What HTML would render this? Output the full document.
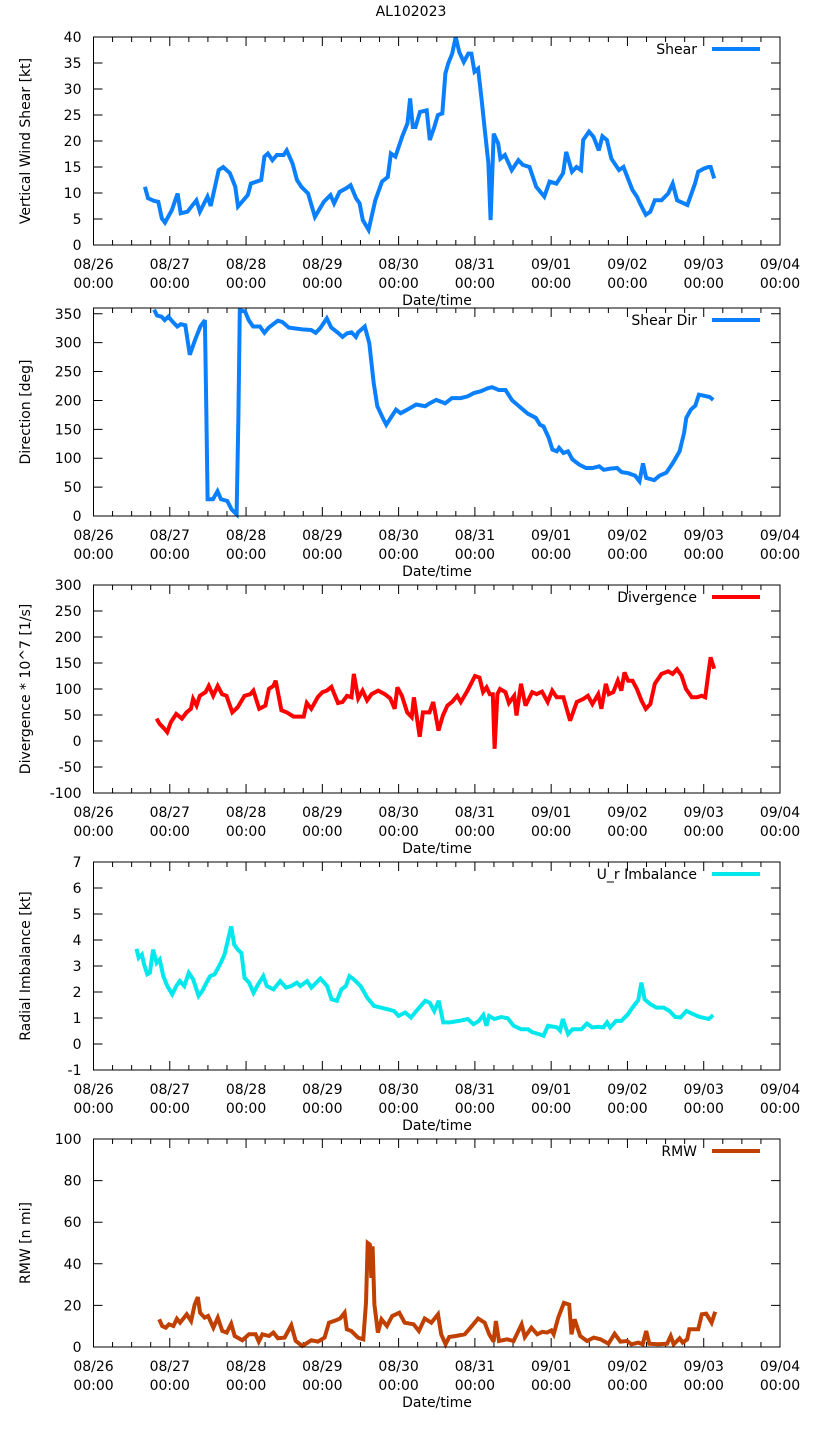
<!DOCTYPE html>
<html><head><meta charset="utf-8">
<style>
html,body{margin:0;padding:0;background:#fff;}
svg{display:block;font-family:"DejaVu Sans","Liberation Sans",sans-serif;}
</style></head>
<body>
<svg id="chart" width="822" height="1439" viewBox="0 0 822 1439" xmlns="http://www.w3.org/2000/svg">
<rect width="822" height="1439" fill="#fff"/>
<text x="411" y="16" font-size="14" text-anchor="middle" fill="#000">AL102023</text>
</svg>
<script>
// x tick labels (days 0..9 from 08/26 00:00)
const xTickDates = ["08/26","08/27","08/28","08/29","08/30","08/31","09/01","09/02","09/03","09/04"];

const shearTimes = [0.674,0.715,0.792,0.850,0.897,0.938,1.026,1.102,1.143,1.231,1.349,1.395,1.495,1.536,1.642,1.700,1.788,1.859,1.894,2.023,2.064,2.199,2.240,2.287,2.345,2.404,2.492,2.533,2.609,2.668,2.726,2.814,2.902,3.019,3.107,3.154,3.225,3.313,3.371,3.442,3.488,3.530,3.606,3.694,3.782,3.858,3.899,3.958,4.046,4.116,4.151,4.186,4.221,4.280,4.368,4.409,4.468,4.515,4.573,4.614,4.650,4.702,4.749,4.796,4.855,4.913,4.954,4.995,5.042,5.089,5.130,5.177,5.206,5.247,5.306,5.335,5.394,5.482,5.570,5.628,5.716,5.804,5.910,5.980,6.068,6.156,6.197,6.273,6.332,6.391,6.420,6.496,6.555,6.625,6.672,6.731,6.790,6.889,6.948,7.006,7.065,7.124,7.165,7.241,7.300,7.358,7.446,7.534,7.593,7.651,7.786,7.886,7.927,8.001,8.062,8.091,8.138];
const shearValues = [11.2,9.0,8.5,8.3,5.1,4.3,6.7,9.9,6.1,6.4,8.6,6.4,9.3,7.5,14.4,15.0,13.8,11.2,7.4,9.6,11.8,12.5,17.0,17.6,16.3,17.3,17.3,18.2,15.7,12.5,11.2,9.9,5.4,8.3,9.6,8.0,10.2,10.9,11.5,9.0,8.0,4.8,2.9,8.6,12.2,13.1,17.6,17.0,20.8,23.4,28.2,22.7,22.7,25.6,25.9,20.2,22.7,25.0,25.3,33.0,34.9,36.8,40.0,37.1,35.2,36.8,36.8,33.3,33.9,27.8,22.1,15.7,4.8,21.4,19.5,16.6,17.3,14.4,16.3,15.4,15.0,11.2,9.3,12.2,11.8,13.8,17.9,14.1,15.0,14.4,20.2,21.8,20.8,18.2,20.9,20.2,16.6,14.4,15.0,12.8,10.6,9.3,8.0,5.8,6.4,8.6,8.6,9.9,11.8,8.6,7.7,11.8,14.1,14.7,15.0,15.0,12.8];

const dirTimes = [0.794,0.834,0.893,0.934,0.981,1.039,1.099,1.145,1.204,1.262,1.332,1.402,1.461,1.479,1.496,1.567,1.625,1.672,1.754,1.812,1.876,1.900,1.918,1.988,2.035,2.093,2.181,2.240,2.298,2.416,2.474,2.562,2.737,2.854,2.913,2.972,3.059,3.118,3.205,3.265,3.323,3.382,3.440,3.470,3.557,3.616,3.674,3.721,3.791,3.838,3.896,3.966,4.026,4.113,4.231,4.347,4.406,4.494,4.611,4.699,4.815,4.903,4.992,5.080,5.167,5.225,5.313,5.401,5.489,5.606,5.694,5.799,5.852,5.899,5.969,6.016,6.074,6.104,6.162,6.221,6.279,6.367,6.455,6.543,6.630,6.690,6.777,6.865,6.923,7.011,7.099,7.158,7.204,7.246,7.351,7.421,7.509,7.597,7.684,7.743,7.772,7.831,7.889,7.937,8.007,8.077,8.124];
const dirValues = [357,347,345,339,345,336,328,332,330,279,305,328,339,184,29,29,43,29,26,11,3,172,356,354,339,328,328,317,326,338,336,326,323,322,317,325,342,326,317,310,316,318,310,318,328,299,230,190,170,158,170,184,178,184,193,190,195,201,195,204,204,207,213,216,221,223,218,218,200,187,177,170,158,155,135,115,112,118,109,112,98,89,83,83,86,80,82,83,76,74,70,60,91,66,62,70,75,92,112,144,170,184,191,210,208,206,201];

const divTimes = [0.827,0.867,0.926,0.966,1.014,1.084,1.159,1.219,1.277,1.306,1.352,1.394,1.470,1.511,1.569,1.628,1.686,1.744,1.820,1.891,1.979,2.055,2.096,2.172,2.254,2.300,2.359,2.388,2.464,2.534,2.622,2.756,2.797,2.855,2.943,3.002,3.060,3.119,3.206,3.265,3.323,3.382,3.412,3.470,3.528,3.587,3.645,3.733,3.820,3.890,3.949,3.984,4.043,4.113,4.172,4.200,4.276,4.318,4.405,4.453,4.523,4.581,4.640,4.698,4.768,4.815,4.903,5.002,5.060,5.107,5.154,5.195,5.235,5.259,5.295,5.329,5.400,5.446,5.516,5.546,5.605,5.663,5.751,5.809,5.880,5.955,6.014,6.072,6.160,6.248,6.336,6.423,6.481,6.540,6.616,6.658,6.716,6.756,6.815,6.873,6.920,6.961,7.008,7.066,7.124,7.183,7.241,7.300,7.358,7.446,7.534,7.592,7.650,7.709,7.768,7.844,7.914,7.972,8.020,8.060,8.090,8.137];
const divValues = [43,33,24,17,36,52,43,55,62,81,68,87,94,106,87,106,90,87,55,65,87,90,97,62,68,100,106,116,59,55,47,47,73,62,85,94,97,104,73,75,87,84,129,82,97,78,90,97,90,82,62,103,87,55,46,84,8,55,55,75,20,49,68,75,87,75,97,125,122,94,103,90,90,-15,90,100,94,73,87,49,110,68,94,90,95,75,97,84,84,39,75,81,87,71,90,62,110,90,94,116,97,132,116,116,100,78,62,71,110,129,134,129,138,126,100,84,84,87,84,129,161,139];

const urTimes = [0.564,0.593,0.635,0.664,0.705,0.740,0.781,0.827,0.868,0.915,0.968,1.032,1.085,1.131,1.190,1.249,1.307,1.378,1.425,1.482,1.530,1.588,1.658,1.717,1.763,1.805,1.845,1.892,1.939,1.980,2.039,2.097,2.156,2.226,2.272,2.360,2.448,2.524,2.595,2.665,2.711,2.800,2.857,2.975,3.063,3.121,3.191,3.250,3.309,3.355,3.414,3.501,3.589,3.678,3.765,3.852,3.940,3.998,4.086,4.162,4.232,4.349,4.408,4.467,4.525,4.584,4.671,4.789,4.906,4.982,5.053,5.110,5.152,5.186,5.256,5.345,5.432,5.508,5.607,5.696,5.754,5.842,5.900,5.959,6.076,6.117,6.152,6.222,6.281,6.398,6.468,6.538,6.626,6.685,6.732,6.772,6.848,6.919,7.008,7.065,7.141,7.183,7.225,7.301,7.381,7.475,7.551,7.626,7.696,7.773,7.860,7.949,8.065,8.124];
const urValues = [3.66,3.31,3.44,3.06,2.68,2.74,3.63,3.12,3.25,2.61,2.23,1.91,2.23,2.42,2.23,2.74,2.48,1.85,2.04,2.36,2.61,2.68,3.06,3.44,4.01,4.52,3.82,3.63,3.50,2.55,2.36,1.97,2.29,2.61,2.23,2.10,2.42,2.17,2.23,2.36,2.23,2.42,2.17,2.52,2.23,1.72,1.66,2.10,2.23,2.61,2.48,2.23,1.78,1.46,1.40,1.34,1.27,1.08,1.21,1.02,1.27,1.66,1.59,1.27,1.66,0.83,0.83,0.89,0.96,0.76,0.89,1.11,0.70,1.08,0.96,1.04,0.99,0.70,0.57,0.57,0.45,0.38,0.32,0.70,0.64,0.51,0.96,0.38,0.57,0.57,0.79,0.64,0.66,0.64,0.83,0.64,0.89,0.89,1.15,1.40,1.68,2.36,1.72,1.53,1.40,1.40,1.27,1.04,1.02,1.27,1.15,1.04,0.96,1.11];

const rmwTimes = [0.861,0.901,0.948,0.988,1.047,1.093,1.135,1.222,1.280,1.327,1.367,1.397,1.456,1.502,1.572,1.630,1.688,1.746,1.805,1.851,1.951,2.038,2.125,2.167,2.214,2.301,2.359,2.418,2.505,2.593,2.651,2.738,2.855,2.942,3.030,3.088,3.175,3.233,3.292,3.321,3.380,3.467,3.537,3.572,3.595,3.624,3.642,3.659,3.683,3.729,3.776,3.846,3.916,4.009,4.080,4.196,4.266,4.342,4.429,4.517,4.558,4.616,4.663,4.750,4.866,4.943,5.042,5.129,5.187,5.245,5.275,5.316,5.421,5.508,5.613,5.654,5.741,5.817,5.887,5.945,6.003,6.033,6.092,6.167,6.237,6.267,6.307,6.381,6.470,6.557,6.646,6.751,6.832,6.908,6.995,7.053,7.141,7.200,7.246,7.287,7.403,7.520,7.567,7.607,7.684,7.724,7.783,7.811,7.928,7.975,8.033,8.103,8.150];
const rmwValues = [13.3,10.1,9.3,10.9,10.1,13.6,11.7,15.7,12.5,20.4,24.0,16.5,14.1,14.9,9.3,14.1,7.7,6.9,11.2,5.3,3.2,6.1,6.1,2.6,6.1,5.3,6.9,4.2,4.5,10.5,2.9,0.5,3.2,2.6,4.5,11.7,12.8,13.7,16.5,8.5,7.7,4.5,3.7,21.2,50.0,49.2,33.2,48.4,20.4,6.9,13.3,10.1,14.9,16.5,11.7,10.9,7.7,13.7,11.7,15.7,6.1,1.3,4.8,5.3,6.1,9.3,13.7,11.7,6.1,2.6,12.5,2.9,3.7,2.9,10.9,4.8,9.3,6.1,7.3,6.9,8.0,6.1,14.1,21.2,20.4,6.1,13.3,5.3,2.9,4.5,3.7,1.6,6.4,2.6,2.9,1.3,2.1,1.3,7.7,1.6,1.3,1.6,5.3,1.3,4.2,2.1,3.7,8.5,8.5,15.7,16.0,11.7,16.9];

const NS = "http://www.w3.org/2000/svg";
const svg = document.getElementById("chart");
const X0 = 93.5, X1 = 780, NDAYS = 9;
function xScale(t){ return X0 + (X1 - X0) * t / NDAYS; }
function mk(tag, attrs, parent){ const e = document.createElementNS(NS, tag); for (const k in attrs) e.setAttribute(k, attrs[k]); (parent||svg).appendChild(e); return e; }

function drawPanel(key, top, bottom, ymin, ymax, ystep, ylabel, legend, color, times, values){
  const g = mk("g", {});
  
  
  const yScale = v => bottom - (bottom - top) * (v - ymin) / (ymax - ymin);
  let d = "";
  for (let i = 0; i <= NDAYS * 4; i++) {
    const x = xScale(i / 4), len = (i % 4 === 0) ? 9 : 5;
    d += `M${x},${bottom}v${-len}M${x},${top}v${len}`;
  }
  const ticks = [];
  for (let v = ymin; v <= ymax + 1e-9; v += ystep) ticks.push(v);
  ticks.forEach(v => { const y = yScale(v); d += `M${X0},${y}h9M${X1},${y}h-9`; });
  const tk = mk("path", {d: d, stroke: "#000", "stroke-width": 1, fill: "none"}, g);
  
  
  ticks.forEach(v => {
    const t = mk("text", {x: X0 - 12, y: yScale(v) + 5, "font-size": 14, "text-anchor": "end"}, g);
    
    
    t.textContent = String(v);
  });
  xTickDates.forEach((lab, i) => {
    const x = xScale(i);
    const t1 = mk("text", {x: x, y: bottom + 24, "font-size": 14, "text-anchor": "middle"}, g);
    
    
    t1.textContent = lab;
    const t2 = mk("text", {x: x, y: bottom + 43, "font-size": 14, "text-anchor": "middle"}, g);
    
    
    t2.textContent = "00:00";
  });
  const xt = mk("text", {x: 437, y: bottom + 60, "font-size": 14, "text-anchor": "middle"}, g);
  
  
  xt.textContent = "Date/time";
  const cy = (top + bottom) / 2;
  const yt = mk("text", {x: 30, y: cy, "font-size": 14, "text-anchor": "middle", transform: `rotate(-90 30 ${cy})`}, g);
  
  
  yt.textContent = ylabel;
  let p = "";
  times.forEach((t, i) => { p += (i ? "L" : "M") + xScale(t).toFixed(1) + "," + yScale(values[i]).toFixed(1); });
  const ln = mk("path", {d: p, stroke: color, "stroke-width": 4, fill: "none", "stroke-linejoin": "miter", "stroke-miterlimit": 3}, g);
  
  
  const fr = mk("rect", {x: X0, y: top, width: X1 - X0, height: bottom - top, fill: "none", stroke: "#000", "stroke-width": 1}, g);
  
  
  const lg = mk("g", {}, g);
  
  
  const lt = mk("text", {x: 697, y: top + 17, "font-size": 14, "text-anchor": "end"}, lg);
  lt.textContent = legend;
  mk("line", {x1: 712, x2: 760, y1: top + 12, y2: top + 12, stroke: color, "stroke-width": 4}, lg);
}

drawPanel("shear", 37, 245, 0, 40, 5, "Vertical Wind Shear [kt]", "Shear", "#0a80ff", shearTimes, shearValues);
drawPanel("shear-dir", 308, 516, 0, 360, 50, "Direction [deg]", "Shear Dir", "#0a80ff", dirTimes, dirValues);
drawPanel("divergence", 585, 793, -100, 300, 50, "Divergence * 10^7 [1/s]", "Divergence", "#ff0000", divTimes, divValues);
drawPanel("radial-imbalance", 862, 1070, -1, 7, 1, "Radial Imbalance [kt]", "U_r Imbalance", "#00e8ec", urTimes, urValues);
drawPanel("rmw", 1139, 1347, 0, 100, 20, "RMW [n mi]", "RMW", "#c04000", rmwTimes, rmwValues);
</script>
</body></html>
